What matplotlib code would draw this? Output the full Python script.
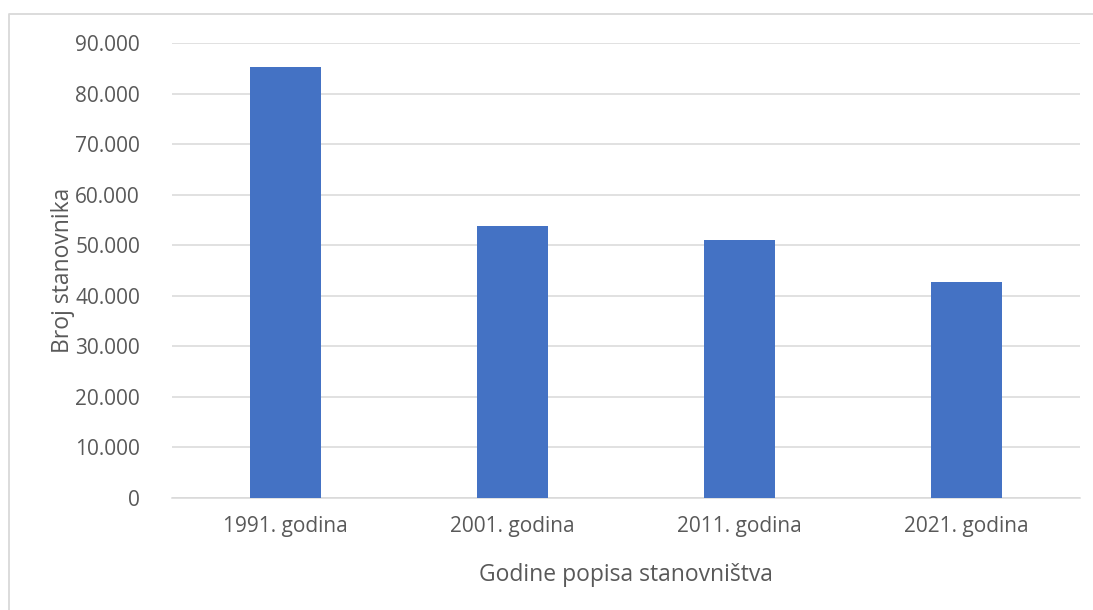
import matplotlib.pyplot as plt
from matplotlib.lines import Line2D
from matplotlib.ticker import FuncFormatter

plt.rcParams['font.family'] = ['Open Sans', 'DejaVu Sans']

godine = ["1991. godina", "2001. godina", "2011. godina", "2021. godina"]
stanovnici = [85200, 53750, 50950, 42800]

W, H = 1093, 610
fig = plt.figure(figsize=(W/100, H/100), dpi=100)
ax = fig.add_axes([172/W, 1-498/H, 908/W, 455/H])

# okvir (vidljivi samo lijevi i gornji rub)
fig.lines.append(Line2D([8.5/W, 8.5/W, 1.0], [0.0, 1-13.5/H, 1-13.5/H],
                        transform=fig.transFigure, color='#d9d9d9', linewidth=1.3))

x = range(len(godine))
ax.bar(x, stanovnici, width=0.313, color='#4472C4', zorder=3)

ax.set_xlim(-0.5, 3.5)
ax.set_ylim(0, 90000)
ax.set_yticks(range(0, 90001, 10000))
ax.yaxis.set_major_formatter(FuncFormatter(lambda v, p: f"{int(v):,}".replace(",", ".")))
ax.set_xticks(list(x))
ax.set_xticklabels(godine)

ax.grid(axis='y', color='#d9d9d9', linewidth=1.1, zorder=0)
for s in ['top', 'right', 'left']:
    ax.spines[s].set_visible(False)
ax.spines['bottom'].set_color('#d9d9d9')
ax.spines['bottom'].set_linewidth(1.1)
ax.tick_params(axis='both', length=0, labelsize=15, colors='#595959')
ax.tick_params(axis='y', pad=23)
ax.tick_params(axis='x', pad=13)

ax.set_ylabel("Broj stanovnika", fontsize=16.5, color='#595959', labelpad=0)
ax.set_xlabel("Godine popisa stanovništva", fontsize=16.5, color='#595959', labelpad=19)

fig.savefig("out.png", dpi=100, facecolor='white')
